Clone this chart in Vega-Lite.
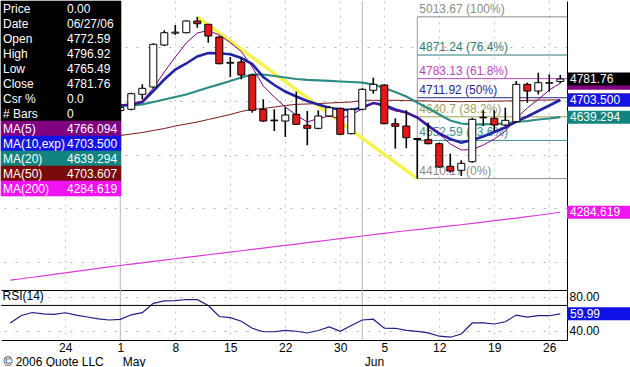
{
  "$schema": "https://vega.github.io/schema/vega-lite/v6.json",
  "padding": 0,
  "autosize": {"type": "pad"},
  "background": "white",
  "spacing": 0,
  "bounds": "flush",
  "config": {
    "view": {"stroke": null},
    "font": "Liberation Sans",
    "axis": {"labelFont": "Liberation Sans", "titleFont": "Liberation Sans", "labelFontSize": 12, "labelColor": "#000000", "domainColor": "#000000", "domainWidth": 1}
  },
  "datasets": {
    "bars": [
      {"i":0,"date":"04/17/06","o":4690,"h":4705,"l":4675,"c":4685,"ma5":4700,"ma10":4698,"ma20":4690,"ma50":4545,"ma200":4031,"rsi":49.2},
      {"i":1,"date":"04/18/06","o":4685,"h":4730,"l":4680,"c":4725,"ma5":4705,"ma10":4700,"ma20":4691,"ma50":4548,"ma200":4036.5,"rsi":58.1},
      {"i":2,"date":"04/19/06","o":4725,"h":4740,"l":4715,"c":4730,"ma5":4710,"ma10":4703,"ma20":4692,"ma50":4551,"ma200":4042,"rsi":61.6},
      {"i":3,"date":"04/20/06","o":4730,"h":4745,"l":4710,"c":4720,"ma5":4712,"ma10":4705,"ma20":4693,"ma50":4554,"ma200":4047.5,"rsi":60.1},
      {"i":4,"date":"04/21/06","o":4720,"h":4735,"l":4705,"c":4728,"ma5":4718,"ma10":4707,"ma20":4694,"ma50":4556,"ma200":4053,"rsi":59.5},
      {"i":5,"date":"04/24/06","o":4728,"h":4735,"l":4700,"c":4708,"ma5":4720,"ma10":4708,"ma20":4694,"ma50":4558,"ma200":4058.5,"rsi":61.3},
      {"i":6,"date":"04/25/06","o":4708,"h":4720,"l":4695,"c":4712,"ma5":4716,"ma10":4707,"ma20":4693,"ma50":4561,"ma200":4064,"rsi":58.6},
      {"i":7,"date":"04/26/06","o":4712,"h":4718,"l":4690,"c":4695,"ma5":4710,"ma10":4704,"ma20":4691,"ma50":4563,"ma200":4069.5,"rsi":56.3},
      {"i":8,"date":"04/27/06","o":4695,"h":4705,"l":4680,"c":4688,"ma5":4700,"ma10":4698,"ma20":4688,"ma50":4565,"ma200":4075,"rsi":54.1},
      {"i":9,"date":"04/28/06","o":4688,"h":4700,"l":4660,"c":4670,"ma5":4692,"ma10":4690,"ma20":4684,"ma50":4568,"ma200":4080.5,"rsi":52.7},
      {"i":10,"date":"05/01/06","o":4664,"h":4680,"l":4655,"c":4676,"ma5":4684.7,"ma10":4682.9,"ma20":4681,"ma50":4570.9,"ma200":4086,"rsi":53.5},
      {"i":11,"date":"05/02/06","o":4668.7,"h":4730.6,"l":4665,"c":4726.9,"ma5":4688.5,"ma10":4686.6,"ma20":4682.9,"ma50":4576.5,"ma200":4091,"rsi":58.9},
      {"i":12,"date":"05/03/06","o":4724.6,"h":4762,"l":4706,"c":4747,"ma5":4699.7,"ma10":4695.9,"ma20":4687.3,"ma50":4582.1,"ma200":4096,"rsi":61.4},
      {"i":13,"date":"05/04/06","o":4751.9,"h":4914.9,"l":4747,"c":4911.2,"ma5":4748.2,"ma10":4737,"ma20":4695.9,"ma50":4589.6,"ma200":4101,"rsi":72.5},
      {"i":14,"date":"05/05/06","o":4908.6,"h":4963.4,"l":4904.9,"c":4954.5,"ma5":4807.9,"ma10":4779.9,"ma20":4705.3,"ma50":4597,"ma200":4106,"rsi":75.3},
      {"i":15,"date":"05/08/06","o":4953,"h":4983.2,"l":4946.5,"c":4956.5,"ma5":4863.8,"ma10":4817.2,"ma20":4714.6,"ma50":4606.4,"ma200":4111,"rsi":75.6},
      {"i":16,"date":"05/09/06","o":4954.5,"h":5000.7,"l":4952.2,"c":4998.1,"ma5":4916.1,"ma10":4839.6,"ma20":4723.9,"ma50":4613.8,"ma200":4116,"rsi":77},
      {"i":17,"date":"05/10/06","o":4998.1,"h":5013.67,"l":4973.1,"c":4988.1,"ma5":4953.4,"ma10":4865.7,"ma20":4736.9,"ma50":4621.3,"ma200":4121,"rsi":76.8},
      {"i":18,"date":"05/11/06","o":4985.8,"h":4987.5,"l":4917.2,"c":4942.2,"ma5":4962.7,"ma10":4878.7,"ma20":4750,"ma50":4630.6,"ma200":4126,"rsi":69.9},
      {"i":19,"date":"05/12/06","o":4938.4,"h":4942.2,"l":4836.6,"c":4838.8,"ma5":4945.9,"ma10":4877.6,"ma20":4761.9,"ma50":4639.9,"ma200":4131,"rsi":56.9},
      {"i":20,"date":"05/15/06","o":4840.5,"h":4863.8,"l":4789.2,"c":4844,"ma5":4917.9,"ma10":4873.9,"ma20":4774.3,"ma50":4649.3,"ma200":4136,"rsi":55.6},
      {"i":21,"date":"05/16/06","o":4845.2,"h":4861.2,"l":4780.6,"c":4796.7,"ma5":4884.3,"ma10":4860.1,"ma20":4787.3,"ma50":4660.5,"ma200":4141,"rsi":51.3},
      {"i":22,"date":"05/17/06","o":4796.7,"h":4799.3,"l":4656,"c":4665,"ma5":4826.5,"ma10":4837.7,"ma20":4798.5,"ma50":4668.7,"ma200":4146,"rsi":42.9},
      {"i":23,"date":"05/18/06","o":4668.7,"h":4706,"l":4622.4,"c":4625,"ma5":4755.6,"ma10":4789.2,"ma20":4798.5,"ma50":4671.7,"ma200":4151,"rsi":38.8},
      {"i":24,"date":"05/19/06","o":4628.5,"h":4668.7,"l":4587.7,"c":4626,"ma5":4714.6,"ma10":4759.4,"ma20":4792.9,"ma50":4677.3,"ma200":4156,"rsi":38.8},
      {"i":25,"date":"05/22/06","o":4625,"h":4677.3,"l":4565.3,"c":4647.4,"ma5":4677.3,"ma10":4735.1,"ma20":4787.3,"ma50":4682.9,"ma200":4161,"rsi":40.3},
      {"i":26,"date":"05/23/06","o":4650,"h":4734.4,"l":4610.1,"c":4612.7,"ma5":4647.4,"ma10":4716.4,"ma20":4781.7,"ma50":4687.3,"ma200":4166,"rsi":39.4},
      {"i":27,"date":"05/24/06","o":4609,"h":4662.3,"l":4534.4,"c":4597.8,"ma5":4621.3,"ma10":4699.7,"ma20":4778.8,"ma50":4688.5,"ma200":4171,"rsi":37.3},
      {"i":28,"date":"05/25/06","o":4597.8,"h":4665,"l":4594.1,"c":4643.7,"ma5":4634.4,"ma10":4686.6,"ma20":4776.9,"ma50":4690.3,"ma200":4176,"rsi":40.3},
      {"i":29,"date":"05/26/06","o":4643.7,"h":4681,"l":4640,"c":4674.7,"ma5":4643.7,"ma10":4674.7,"ma20":4775,"ma50":4692.2,"ma200":4181,"rsi":44.6},
      {"i":30,"date":"05/30/06","o":4672.4,"h":4674.7,"l":4572.8,"c":4575.4,"ma5":4632.5,"ma10":4667.9,"ma20":4772.4,"ma50":4694.1,"ma200":4186,"rsi":39.3},
      {"i":31,"date":"05/31/06","o":4577.7,"h":4672.4,"l":4575.4,"c":4668.7,"ma5":4649.3,"ma10":4666.1,"ma20":4770.5,"ma50":4695.9,"ma200":4191,"rsi":46.2},
      {"i":32,"date":"06/01/06","o":4668.7,"h":4747,"l":4665,"c":4743.3,"ma5":4669.8,"ma10":4675.4,"ma20":4767.9,"ma50":4702.3,"ma200":4196,"rsi":52.7},
      {"i":33,"date":"06/02/06","o":4739.6,"h":4786.6,"l":4726.9,"c":4762,"ma5":4692.2,"ma10":4692.2,"ma20":4761.2,"ma50":4702.3,"ma200":4201,"rsi":53.7},
      {"i":34,"date":"06/05/06","o":4759.4,"h":4762,"l":4612.7,"c":4614.9,"ma5":4677.3,"ma10":4684.7,"ma20":4748.2,"ma50":4702.3,"ma200":4206,"rsi":43.1},
      {"i":35,"date":"06/06/06","o":4614.9,"h":4635.1,"l":4521.7,"c":4605.3,"ma5":4662.4,"ma10":4667.9,"ma20":4733.2,"ma50":4702.3,"ma200":4211,"rsi":42.9},
      {"i":36,"date":"06/07/06","o":4606.4,"h":4665,"l":4523.2,"c":4562.7,"ma5":4656,"ma10":4656.8,"ma20":4716.4,"ma50":4701.5,"ma200":4215.5,"rsi":40.5},
      {"i":37,"date":"06/08/06","o":4560,"h":4561,"l":4410.17,"c":4556,"ma5":4640,"ma10":4638.1,"ma20":4694.1,"ma50":4700.4,"ma200":4220,"rsi":39.2},
      {"i":38,"date":"06/09/06","o":4555.3,"h":4618.7,"l":4538.1,"c":4540.3,"ma5":4612.7,"ma10":4606.4,"ma20":4671.7,"ma50":4699.7,"ma200":4224.5,"rsi":37.5},
      {"i":39,"date":"06/12/06","o":4540.3,"h":4544,"l":4450.8,"c":4453.4,"ma5":4576.5,"ma10":4578.4,"ma20":4649.3,"ma50":4698.5,"ma200":4229,"rsi":33.5},
      {"i":40,"date":"06/13/06","o":4456,"h":4503,"l":4432.2,"c":4438.5,"ma5":4539.2,"ma10":4557.9,"ma20":4626.9,"ma50":4697.8,"ma200":4233.5,"rsi":32.3},
      {"i":41,"date":"06/14/06","o":4441.1,"h":4478.4,"l":4419.8,"c":4467.2,"ma5":4516.8,"ma10":4544.1,"ma20":4615.7,"ma50":4697,"ma200":4238,"rsi":36.1},
      {"i":42,"date":"06/15/06","o":4473.2,"h":4637.3,"l":4469.5,"c":4631.4,"ma5":4518.7,"ma10":4554.1,"ma20":4612.7,"ma50":4697.8,"ma200":4243,"rsi":49.2},
      {"i":43,"date":"06/16/06","o":4637,"h":4665,"l":4606.4,"c":4639,"ma5":4535.5,"ma10":4567.2,"ma20":4612.7,"ma50":4698.5,"ma200":4248,"rsi":49.4},
      {"i":44,"date":"06/19/06","o":4635.1,"h":4665,"l":4587.7,"c":4610.1,"ma5":4557.9,"ma10":4584,"ma20":4613.8,"ma50":4699.3,"ma200":4253,"rsi":48},
      {"i":45,"date":"06/20/06","o":4610.1,"h":4674.7,"l":4606.4,"c":4627.6,"ma5":4587.7,"ma10":4600.8,"ma20":4615.7,"ma50":4699.7,"ma200":4258,"rsi":50.6},
      {"i":46,"date":"06/21/06","o":4622.4,"h":4774.3,"l":4618.7,"c":4762,"ma5":4636.2,"ma10":4623.2,"ma20":4621.3,"ma50":4700.8,"ma200":4263,"rsi":58.6},
      {"i":47,"date":"06/22/06","o":4762,"h":4768,"l":4693.3,"c":4737,"ma5":4673.5,"ma10":4641.8,"ma20":4625,"ma50":4701.9,"ma200":4268,"rsi":56.1},
      {"i":48,"date":"06/23/06","o":4737,"h":4805.2,"l":4724.6,"c":4768,"ma5":4705.3,"ma10":4662.3,"ma20":4630.6,"ma50":4703,"ma200":4273.5,"rsi":57.8},
      {"i":49,"date":"06/26/06","o":4766,"h":4799.3,"l":4734.4,"c":4768,"ma5":4740.7,"ma10":4682.9,"ma20":4634.4,"ma50":4703.4,"ma200":4279,"rsi":57.8},
      {"i":50,"date":"06/27/06","o":4772.59,"h":4796.92,"l":4765.49,"c":4781.76,"ma5":4766.094,"ma10":4703.5,"ma20":4639.294,"ma50":4703.607,"ma200":4284.619,"rsi":59.99}
    ],
    "months": [{"i":10,"m":"May"},{"i":32,"m":"Jun"}],
    "trend": [{"i":17,"p":5013.67},{"i":37,"p":4410.17}],
    "fib": [
      {"level":5013.67,"pct":"100%","label":"5013.67 (100%)"},
      {"level":4871.24,"pct":"76.4%","label":"4871.24 (76.4%)"},
      {"level":4783.13,"pct":"61.8%","label":"4783.13 (61.8%)"},
      {"level":4711.92,"pct":"50%","label":"4711.92 (50%)"},
      {"level":4640.7,"pct":"38.2%","label":"4640.7 (38.2%)"},
      {"level":4552.59,"pct":"23.6%","label":"4552.59 (23.6%)"},
      {"level":4410.17,"pct":"0%","label":"4410.17 (0%)"}
    ],
    "boxes": [
      {"name":"MA(200)","v":4284.619,"t":"4284.619"},
      {"name":"MA(50)","v":4703.607,"t":"4703.607"},
      {"name":"MA(20)","v":4639.294,"t":"4639.294"},
      {"name":"MA(5)","v":4766.094,"t":"4766.094"},
      {"name":"MA(10,exp)","v":4703.5,"t":"4703.500"},
      {"name":"Close","v":4781.76,"t":"4781.76"}
    ],
    "info": [
      {"row":"Price","col":"label","text":"Price"},{"row":"Price","col":"value","text":"0.00"},
      {"row":"Date","col":"label","text":"Date"},{"row":"Date","col":"value","text":"06/27/06"},
      {"row":"Open","col":"label","text":"Open"},{"row":"Open","col":"value","text":"4772.59"},
      {"row":"High","col":"label","text":"High"},{"row":"High","col":"value","text":"4796.92"},
      {"row":"Low","col":"label","text":"Low"},{"row":"Low","col":"value","text":"4765.49"},
      {"row":"Close","col":"label","text":"Close"},{"row":"Close","col":"value","text":"4781.76"},
      {"row":"Csr %","col":"label","text":"Csr %"},{"row":"Csr %","col":"value","text":"0.0"},
      {"row":"# Bars","col":"label","text":"# Bars"},{"row":"# Bars","col":"value","text":"0"},
      {"row":"MA(5)","col":"label","text":"MA(5)"},{"row":"MA(5)","col":"value","text":"4766.094"},
      {"row":"MA(10,exp)","col":"label","text":"MA(10,exp)"},{"row":"MA(10,exp)","col":"value","text":"4703.500"},
      {"row":"MA(20)","col":"label","text":"MA(20)"},{"row":"MA(20)","col":"value","text":"4639.294"},
      {"row":"MA(50)","col":"label","text":"MA(50)"},{"row":"MA(50)","col":"value","text":"4703.607"},
      {"row":"MA(200)","col":"label","text":"MA(200)"},{"row":"MA(200)","col":"value","text":"4284.619"}
    ]
  },
  "vconcat": [
    {
      "width": 566,
      "height": 289,
      "layer": [
        {
          "layer": [
            {
              "data": {"name": "months"},
              "mark": {"type": "rule", "color": "#b4b4b4", "strokeWidth": 1},
              "encoding": {
                "x": {"field": "i", "type": "quantitative", "scale": {"domain": [-0.845, 50.61], "nice": false, "zero": false, "padding": 0},
                  "axis": {"orient": "bottom", "values": [5,15,20,25,30,34,39,44,49], "grid": true, "gridDash": [2,5], "gridColor": "#c4c4c4", "labels": false, "ticks": false, "tickSize": 0, "domain": true, "title": null}}
              }
            },
            {
              "data": {"name": "fib"},
              "mark": {"type": "rule", "strokeWidth": 1},
              "encoding": {
                "x": {"datum": 37, "type": "quantitative", "scale": {"domain": [-0.845, 50.61], "nice": false, "zero": false, "padding": 0}},
                "x2": {"value": "width"},
                "y": {"field": "level", "type": "quantitative", "scale": {"domain": [3994.5, 5072.8], "nice": false, "zero": false},
                  "axis": {"orient": "right", "values": [4100,4200,4300,4400,4500,4600,4700,4800,4900,5000], "labelExpr": "datum.value % 200 == 0 ? format(datum.value, '.2f') : ''", "grid": true, "gridDash": [2,9], "gridColor": "#b0b0b0", "ticks": false, "tickSize": 0, "labelPadding": 2, "domain": true, "title": null, "labelOverlap": false}},
                "color": {"field": "pct", "type": "nominal", "scale": {"domain": ["100%","76.4%","61.8%","50%","38.2%","23.6%","0%"], "range": ["#8c8c8c","#2f7a78","#b848b8","#28288a","#a0a058","#3f9090","#8c8c8c"]}, "legend": null}
              }
            },
            {
              "data": {"values": [{}]},
              "mark": {"type": "rule", "color": "#9a9a9a", "strokeWidth": 1},
              "encoding": {
                "x": {"datum": 37, "type": "quantitative"},
                "y": {"datum": 5013.67, "type": "quantitative"},
                "y2": {"datum": 4410.17}
              }
            },
            {
              "data": {"name": "fib"},
              "mark": {"type": "text", "align": "left", "baseline": "bottom", "dx": 2, "dy": -1, "fontSize": 12},
              "encoding": {
                "x": {"datum": 37, "type": "quantitative"},
                "y": {"field": "level", "type": "quantitative"},
                "text": {"field": "label"},
                "color": {"field": "pct", "type": "nominal", "legend": null}
              }
            },
            {
              "data": {"name": "trend"},
              "mark": {"type": "line", "color": "#f4f44c", "strokeWidth": 3.5},
              "encoding": {"x": {"field": "i", "type": "quantitative"}, "y": {"field": "p", "type": "quantitative"}}
            },
            {
              "data": {"name": "bars"},
              "mark": {"type": "line", "color": "#d63cd6", "strokeWidth": 1.2},
              "encoding": {"x": {"field": "i", "type": "quantitative"}, "y": {"field": "ma200", "type": "quantitative"}}
            },
            {
              "data": {"name": "bars"},
              "mark": {"type": "line", "color": "#7a1a1a", "strokeWidth": 1},
              "encoding": {"x": {"field": "i", "type": "quantitative"}, "y": {"field": "ma50", "type": "quantitative"}}
            },
            {
              "data": {"name": "bars"},
              "mark": {"type": "line", "color": "#2e8c84", "strokeWidth": 2.2},
              "encoding": {"x": {"field": "i", "type": "quantitative"}, "y": {"field": "ma20", "type": "quantitative"}}
            },
            {
              "data": {"name": "bars"},
              "mark": {"type": "line", "color": "#2323a6", "strokeWidth": 2.6},
              "encoding": {"x": {"field": "i", "type": "quantitative"}, "y": {"field": "ma10", "type": "quantitative"}}
            },
            {
              "data": {"name": "bars"},
              "mark": {"type": "line", "color": "#800080", "strokeWidth": 1},
              "encoding": {"x": {"field": "i", "type": "quantitative"}, "y": {"field": "ma5", "type": "quantitative"}}
            },
            {
              "data": {"name": "bars"},
              "mark": {"type": "rule", "color": "#000000", "strokeWidth": 1.6},
              "encoding": {"x": {"field": "i", "type": "quantitative"}, "y": {"field": "l", "type": "quantitative"}, "y2": {"field": "h"}}
            },
            {
              "data": {"name": "bars"},
              "mark": {"type": "bar", "width": 7, "stroke": "#000000", "strokeWidth": 1, "opacity": 1},
              "encoding": {
                "x": {"field": "i", "type": "quantitative"},
                "y": {"field": "o", "type": "quantitative"},
                "y2": {"field": "c"},
                "fill": {"condition": {"test": "datum.c >= datum.o", "value": "#ffffff"}, "value": "#e01818"}
              }
            },
            {
              "data": {"name": "boxes"},
              "transform": [{"filter": "datum.name != 'Close'"}],
              "mark": {"type": "tick", "orient": "horizontal", "size": 66, "thickness": 13, "xOffset": 33, "opacity": 1},
              "encoding": {
                "x": {"value": "width"},
                "y": {"field": "v", "type": "quantitative"},
                "fill": {"field": "name", "type": "nominal", "scale": {"domain": ["Price","Date","Open","High","Low","Close","Csr %","# Bars","MA(5)","MA(10,exp)","MA(20)","MA(50)","MA(200)"], "range": ["#000000","#000000","#000000","#000000","#000000","#000000","#000000","#000000","#800080","#1414e6","#108580","#7a0a0a","#f014f0"]}, "legend": null}
              }
            },
            {
              "data": {"name": "boxes"},
              "transform": [{"filter": "datum.name == 'MA(200)' || datum.name == 'MA(20)' || datum.name == 'MA(10,exp)'"}],
              "mark": {"type": "text", "align": "left", "baseline": "middle", "dx": 3, "color": "#ffffff", "fontSize": 12},
              "encoding": {"x": {"value": "width"}, "y": {"field": "v", "type": "quantitative"}, "text": {"field": "t"}}
            },
            {
              "data": {"name": "boxes"},
              "transform": [{"filter": "datum.name == 'Close'"}],
              "mark": {"type": "tick", "orient": "horizontal", "size": 66, "thickness": 13, "xOffset": 33, "opacity": 1},
              "encoding": {
                "x": {"value": "width"},
                "y": {"field": "v", "type": "quantitative"},
                "fill": {"field": "name", "type": "nominal", "legend": null}
              }
            },
            {
              "data": {"name": "boxes"},
              "transform": [{"filter": "datum.name == 'Close'"}],
              "mark": {"type": "text", "align": "left", "baseline": "middle", "dx": 3, "color": "#ffffff", "fontSize": 12},
              "encoding": {"x": {"value": "width"}, "y": {"field": "v", "type": "quantitative"}, "text": {"field": "t"}}
            }
          ]
        },
        {
          "data": {"name": "info"},
          "layer": [
            {
              "mark": {"type": "rect", "strokeWidth": 0.6},
              "encoding": {
                "x": {"field": "col", "type": "nominal", "scale": {"type": "band", "domain": ["label","value"], "range": [0,120], "paddingInner": 0, "paddingOuter": 0}, "axis": null},
                "y": {"field": "row", "type": "nominal", "scale": {"type": "band", "domain": ["Price","Date","Open","High","Low","Close","Csr %","# Bars","MA(5)","MA(10,exp)","MA(20)","MA(50)","MA(200)"], "range": [0,195], "paddingInner": 0, "paddingOuter": 0}, "axis": null},
                "fill": {"field": "row", "type": "nominal", "legend": null},
                "stroke": {"field": "row", "type": "nominal", "scale": {"domain": ["Price","Date","Open","High","Low","Close","Csr %","# Bars","MA(5)","MA(10,exp)","MA(20)","MA(50)","MA(200)"], "range": ["#000000","#000000","#000000","#000000","#000000","#000000","#000000","#000000","#800080","#1414e6","#108580","#7a0a0a","#f014f0"]}, "legend": null}
              }
            },
            {
              "transform": [{"filter": "datum.col == 'label'"}],
              "mark": {"type": "text", "align": "left", "baseline": "middle", "dx": 2, "color": "#ffffff", "fontSize": 12},
              "encoding": {
                "x": {"field": "col", "type": "nominal", "bandPosition": 0, "axis": null},
                "y": {"field": "row", "type": "nominal", "axis": null},
                "text": {"field": "text"}
              }
            },
            {
              "transform": [{"filter": "datum.col == 'value'"}],
              "mark": {"type": "text", "align": "left", "baseline": "middle", "dx": 6, "color": "#ffffff", "fontSize": 12},
              "encoding": {
                "x": {"field": "col", "type": "nominal", "bandPosition": 0, "axis": null},
                "y": {"field": "row", "type": "nominal", "axis": null},
                "text": {"field": "text"}
              }
            }
          ]
        }
      ],
      "resolve": {"scale": {"x": "independent", "y": "independent"}, "axis": {"x": "independent", "y": "independent"}}
    },
    {
      "width": 566,
      "height": 50,
      "title": {"text": "RSI(14)", "anchor": "start", "offset": -13, "fontSize": 12, "fontWeight": "normal", "color": "#000000", "dx": 2, "font": "Liberation Sans"},
      "layer": [
        {
          "data": {"name": "months"},
          "mark": {"type": "rule", "color": "#b4b4b4", "strokeWidth": 1},
          "encoding": {
            "x": {"field": "i", "type": "quantitative", "scale": {"domain": [-0.845, 50.61], "nice": false, "zero": false, "padding": 0},
              "axis": {"orient": "bottom", "values": [10,32], "labelExpr": "datum.value == 10 ? 'May' : 'Jun'", "labelAlign": "left", "labelOffset": 2, "labelPadding": 16, "labelBaseline": "top", "ticks": false, "tickSize": 0, "domain": false, "grid": false, "labelFlush": false, "labelOverlap": false,
                "title": "© 2006 Quote LLC", "titleX": 2, "titleY": 16, "titleAlign": "left", "titleBaseline": "top", "titleAnchor": "start", "titleFontWeight": "normal", "titleFontSize": 12, "titleColor": "#000000", "titleAngle": 0}}
          }
        },
        {
          "data": {"name": "bars"},
          "mark": {"type": "line", "color": "#1e1e82", "strokeWidth": 1.2},
          "encoding": {
            "x": {"field": "i", "type": "quantitative", "scale": {"domain": [-0.845, 50.61], "nice": false, "zero": false, "padding": 0},
              "axis": {"orient": "bottom", "values": [5,10,15,20,25,30,34,39,44,49], "labelExpr": "datum.value==5?'24':datum.value==10?'1':datum.value==15?'8':datum.value==20?'15':datum.value==25?'22':datum.value==30?'30':datum.value==34?'5':datum.value==39?'12':datum.value==44?'19':'26'", "labelPadding": 2, "labelBaseline": "top", "ticks": false, "tickSize": 0, "domain": true, "grid": true, "gridDash": [2,5], "gridColor": "#c4c4c4", "title": null, "labelFlush": false, "labelOverlap": false}},
            "y": {"field": "rsi", "type": "quantitative", "scale": {"domain": [29, 88.3], "nice": false, "zero": false},
              "axis": {"orient": "right", "values": [40,60,80], "format": ".2f", "grid": true, "gridDash": [2,9], "gridColor": "#b0b0b0", "ticks": false, "tickSize": 0, "labelPadding": 2, "domain": true, "title": null, "labelOverlap": false}}
          }
        },
        {
          "data": {"values": [{}]},
          "mark": {"type": "rule", "color": "#000000", "strokeWidth": 1},
          "encoding": {"y": {"datum": 70, "type": "quantitative"}}
        },
        {
          "data": {"values": [{"v": 59.99, "t": "59.99"}]},
          "mark": {"type": "tick", "orient": "horizontal", "size": 66, "thickness": 13, "xOffset": 33, "color": "#1010e8", "opacity": 1},
          "encoding": {"x": {"value": "width"}, "y": {"field": "v", "type": "quantitative"}}
        },
        {
          "data": {"values": [{"v": 59.99, "t": "59.99"}]},
          "mark": {"type": "text", "align": "left", "baseline": "middle", "dx": 3, "color": "#ffffff", "fontSize": 12},
          "encoding": {"x": {"value": "width"}, "y": {"field": "v", "type": "quantitative"}, "text": {"field": "t"}}
        }
      ],
      "resolve": {"axis": {"x": "independent"}}
    }
  ]
}
